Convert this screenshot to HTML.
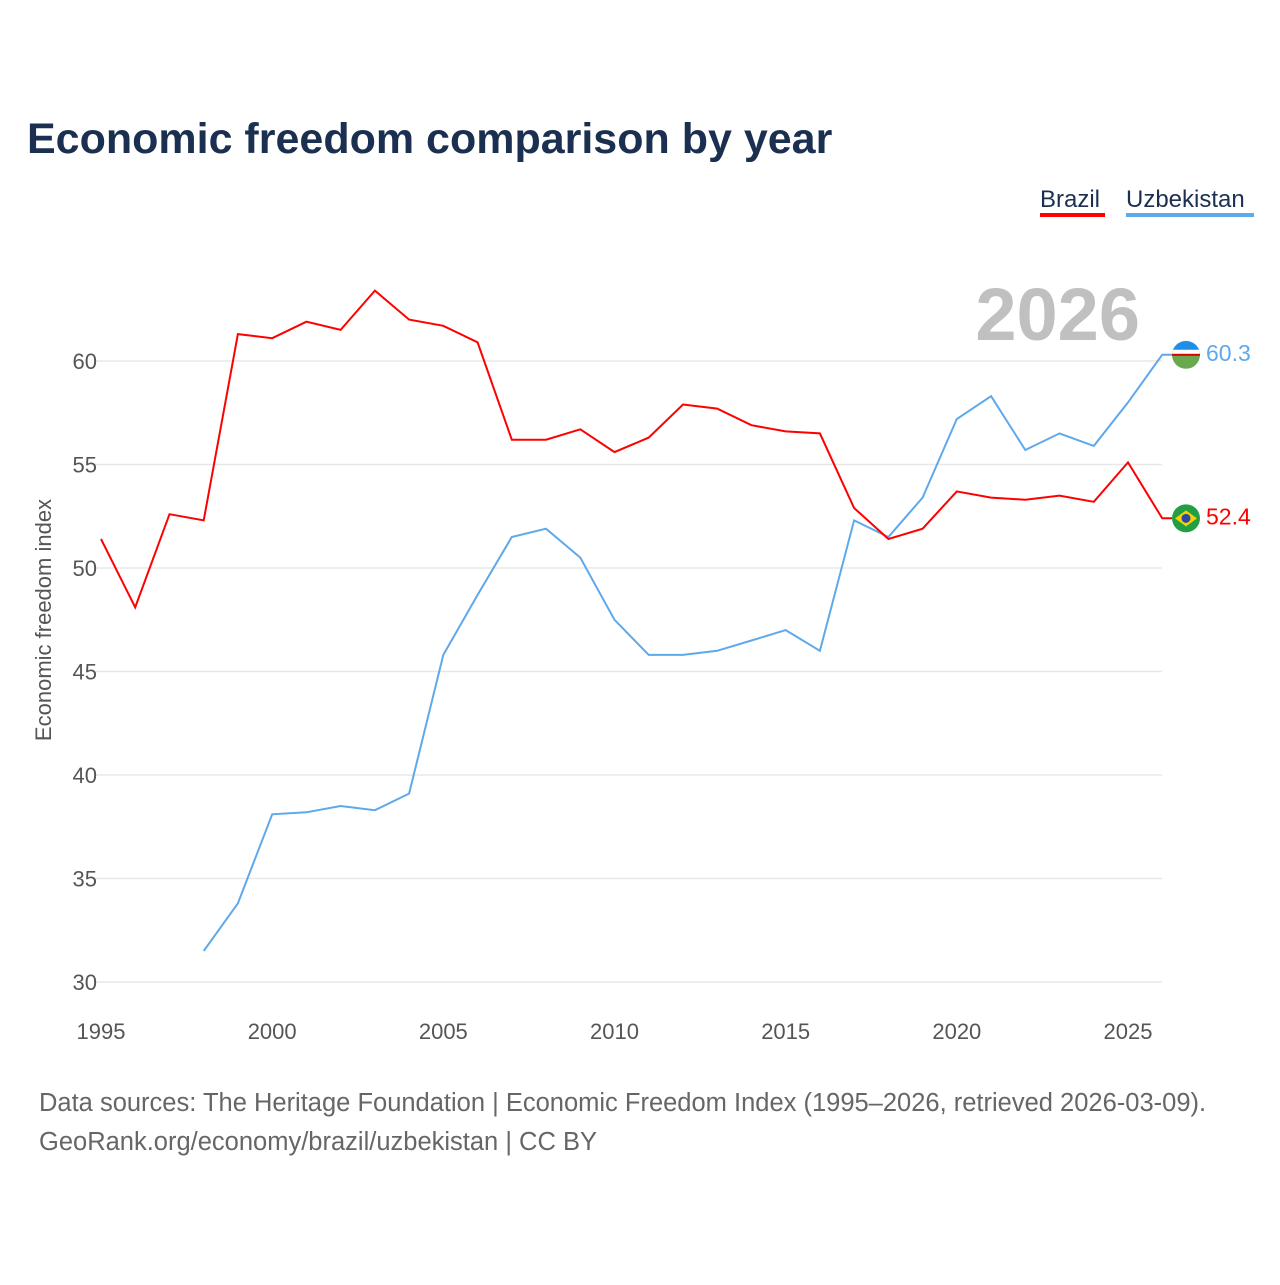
<!DOCTYPE html>
<html><head><meta charset="utf-8"><style>
body{margin:0;background:#fff;font-family:"Liberation Sans",sans-serif;}
svg text{font-family:"Liberation Sans",sans-serif;}
</style></head><body>
<svg width="1280" height="1280" viewBox="0 0 1280 1280">
<text x="27" y="153" font-size="43" font-weight="bold" fill="#1b3050">Economic freedom comparison by year</text>
<g>
<text x="1040" y="207" font-size="24" fill="#1b3050">Brazil</text>
<rect x="1040" y="213" width="65" height="4" fill="#ff0000"/>
<text x="1126" y="207" font-size="24" fill="#1b3050">Uzbekistan</text>
<rect x="1126" y="213" width="128" height="4" fill="#5ea8ec"/>
</g>
<text x="1140" y="340" font-size="74" font-weight="bold" fill="#c0c0c0" text-anchor="end">2026</text>
<g id="grid"></g><g id="axes"></g><g id="lines"></g>
<text transform="translate(51,620) rotate(-90)" font-size="22" fill="#555" text-anchor="middle">Economic freedom index</text>
<text x="39" y="1111" font-size="25.5" fill="#666">Data sources: The Heritage Foundation | Economic Freedom Index (1995–2026, retrieved 2026-03-09).</text>
<text x="39" y="1150" font-size="25.5" fill="#666">GeoRank.org/economy/brazil/uzbekistan | CC BY</text>
</svg>
<script>
const years=[1995,1996,1997,1998,1999,2000,2001,2002,2003,2004,2005,2006,2007,2008,2009,2010,2011,2012,2013,2014,2015,2016,2017,2018,2019,2020,2021,2022,2023,2024,2025,2026];
const brazil=[51.4,48.1,52.6,52.3,61.3,61.1,61.9,61.5,63.4,62.0,61.7,60.9,56.2,56.2,56.7,55.6,56.3,57.9,57.7,56.9,56.6,56.5,52.9,51.4,51.9,53.7,53.4,53.3,53.5,53.2,55.1,52.4];
const uzbekistan=[null,null,null,31.5,33.8,38.1,38.2,38.5,38.3,39.1,45.8,48.7,51.5,51.9,50.5,47.5,45.8,45.8,46.0,46.5,47.0,46.0,52.3,51.5,53.4,57.2,58.3,55.7,56.5,55.9,58.0,60.3];
const yTicks=[30,35,40,45,50,55,60];
const xTicks=[1995,2000,2005,2010,2015,2020,2025];
const NS='http://www.w3.org/2000/svg';
const X=y=>101+(y-1995)*(1128-101)/30;
const Y=v=>361+(60-v)*(982-361)/30;
function mk(t,a,p){const e=document.createElementNS(NS,t);for(const k in a)e.setAttribute(k,a[k]);p.appendChild(e);return e;}
const grid=document.getElementById('grid'),axes=document.getElementById('axes'),lines=document.getElementById('lines');
yTicks.forEach(v=>{
const l=mk('line',{x1:95,x2:1162,y1:Y(v),y2:Y(v),stroke:'#e8e8e8','stroke-width':1.5},grid);


const t=mk('text',{x:97,y:Y(v)+8,'font-size':22,fill:'#555','text-anchor':'end'},axes);t.textContent=v;


});
xTicks.forEach(v=>{
const t=mk('text',{x:X(v),y:1039,'font-size':22,fill:'#555','text-anchor':'middle'},axes);t.textContent=v;


});
function series(vals,color,name){
let d='';vals.forEach((v,i)=>{if(v==null)return;d+=(d?'L':'M')+X(years[i]).toFixed(1)+','+Y(v).toFixed(1);});
const last=vals[vals.length-1];
d+='L1172,'+Y(last).toFixed(1);
const p=mk('path',{d:d,fill:'none',stroke:color,'stroke-width':2},lines);


const c=mk('circle',{cx:1186,cy:Y(last),r:14,fill:name=='brazil'?'#229e45':'#6aa84f'},lines);


if(name=='brazil'){mk('path',{d:`M1175,${Y(last)}L1186,${Y(last)-8}L1197,${Y(last)}L1186,${Y(last)+8}Z`,fill:'#f8d000'},lines);mk('circle',{cx:1186,cy:Y(last),r:4.5,fill:'#2b49a3'},lines);}
else{mk('path',{d:`M1172,${Y(last)}A14,14 0 0 1 1200,${Y(last)}Z`,fill:'#fff'},lines);mk('path',{d:`M1173,${Y(last)-5}A14,14 0 0 1 1199,${Y(last)-5}Z`,fill:'#1e8ee8'},lines);mk('rect',{x:1172,y:Y(last)-1,width:28,height:2,fill:'#d00'},lines);}
const t=mk('text',{x:1206,y:Y(last)+6,'font-size':23,fill:color},lines);t.textContent=last.toFixed(1);


}
series(uzbekistan,'#5ea8ec','uzbekistan');
series(brazil,'#ff0000','brazil');
</script>
</body></html>
